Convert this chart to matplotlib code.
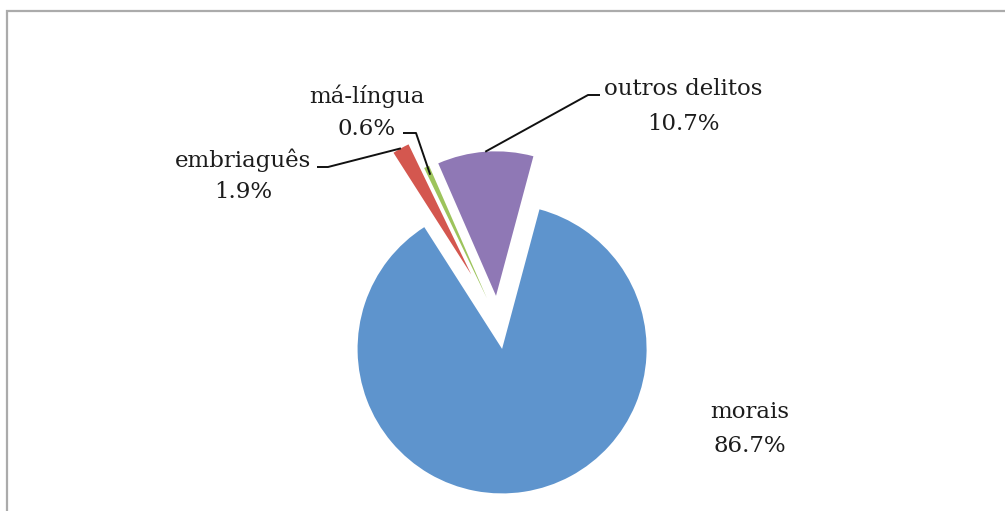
import matplotlib
matplotlib.use("Agg")
import matplotlib.pyplot as plt
import numpy as np
from matplotlib.patches import Rectangle

# Data
categories = ["morais", "embriaguês", "má-língua", "outros delitos"]
percentages = [86.7, 1.9, 0.6, 10.7]

# Styling
colors = ["#5E94CD", "#D4574F", "#9DC45C", "#8F78B5"]
explode_frac = [0.185, 0.38, 0.185, 0.185]   # as a fraction of the radius

W, H = 1005, 511
fig = plt.figure(figsize=(W / 100, H / 100), dpi=100)
ax = fig.add_axes([0, 0, 1, 1])

center = (498.0, H - 322.5)
radius = 144.5
wedges, _ = ax.pie(percentages, colors=colors,
                   explode=[e * radius for e in explode_frac],
                   startangle=75, counterclock=False,
                   center=center, radius=radius,
                   wedgeprops=dict(linewidth=0))

ax.set_xlim(0, W)
ax.set_ylim(0, H)
ax.set_aspect("equal")
ax.axis("off")

# Chart-area frame (top and left edges visible)
ax.add_patch(Rectangle((7, -40), W + 40, H - 11 + 40, fill=False,
                       edgecolor="#ABABAB", linewidth=1.6, zorder=0))


def outer_point(w, frac=1.0):
    mid = np.deg2rad((w.theta1 + w.theta2) / 2)
    cx, cy = w.center
    return cx + frac * w.r * np.cos(mid), cy + frac * w.r * np.sin(mid)


font = dict(family="DejaVu Serif", fontsize=16.5, color="#1C1C1C")

# label layout: (x centre, baseline of first line, baseline of second line) in pixels from top
label_pos = {
    "morais": (750, 418, 452),
    "embriaguês": (243, 167, 198),
    "má-língua": (367, 103, 135),
    "outros delitos": (683, 95, 130),
}
for cat, pct in zip(categories, percentages):
    x, b1, b2 = label_pos[cat]
    ax.text(x, H - b1, cat, ha="center", va="baseline", **font)
    ax.text(x, H - b2, f"{pct:.1f}%", ha="center", va="baseline", **font)

# Leader lines
line_kw = dict(color="#111111", linewidth=1.4, solid_capstyle="butt")
knees = {
    "embriaguês": [(317, 167), (328, 167)],
    "má-língua": [(403, 133), (416, 133)],
    "outros delitos": [(600, 95), (588, 95)],
}
fracs = {"embriaguês": 1.0, "má-língua": 0.94, "outros delitos": 1.0}
for w, cat in zip(wedges, categories):
    if cat not in knees:
        continue
    px, py = outer_point(w, fracs[cat])
    xs = [p[0] for p in knees[cat]] + [px]
    ys = [H - p[1] for p in knees[cat]] + [py]
    ax.plot(xs, ys, **line_kw)

fig.savefig("out.png", dpi=100, facecolor="white")
